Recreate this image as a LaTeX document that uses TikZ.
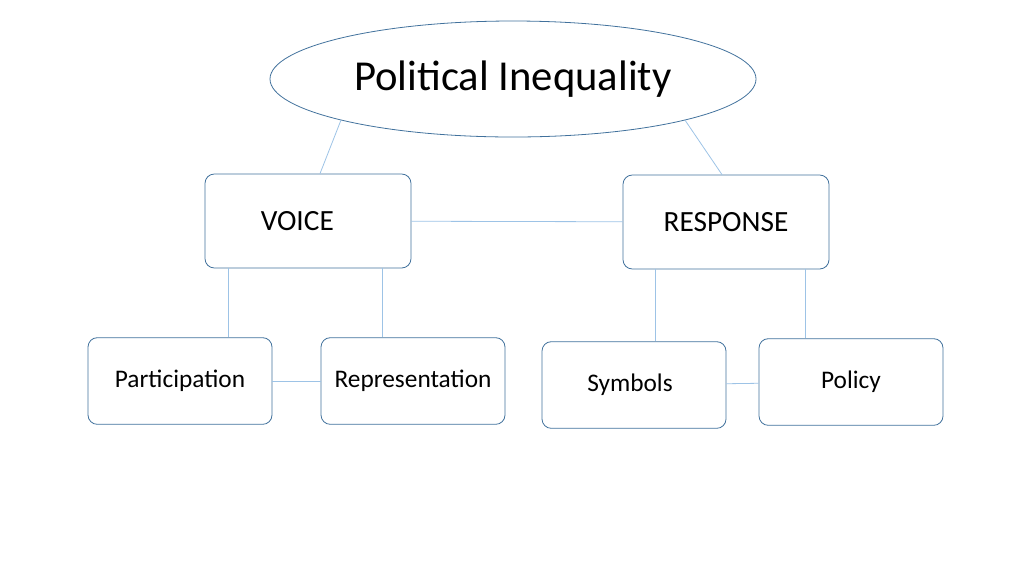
\documentclass[tikz,border=0pt]{standalone}
\usepackage{fontspec}
\setmainfont{Carlito}
\usetikzlibrary{shapes.geometric}

\definecolor{boxline}{HTML}{41719C}
\definecolor{linkline}{HTML}{9DC3E6}

\begin{document}
\begin{tikzpicture}[x=0.75pt,y=-0.75pt,
                    box node/.style={rectangle,rounded corners=7pt,draw=boxline,line width=0.6pt,inner sep=0pt},
                    top node/.style={box node,minimum width=154.5pt,minimum height=70.5pt,font=\fontsize{22}{24}\selectfont},
                    leaf node/.style={box node,minimum width=138pt,minimum height=65pt,font=\fontsize{19}{21}\selectfont},
                    link/.style={draw=linkline,line width=0.6pt}]

  \useasboundingbox (0,0) rectangle (1024,576);

  \node[ellipse,draw=boxline,line width=0.6pt,minimum width=364.5pt,minimum height=87pt,
        font=\fontsize{32}{34}\selectfont] (pi) at (513,79) {Political Inequality};

  \node[top node] (voice) at (308,221) {\hspace*{-16pt}VOICE};
  \node[top node] (resp) at (726,222) {RESPONSE};

  \node[leaf node] (part) at (180,381) {Participation};
  \node[leaf node] (repr) at (413,381) {Representation};
  \node[leaf node] (symb) at (634,385) {\hspace*{-6pt}Symbols};
  \node[leaf node] (poli) at (851,382) {Policy};

  \path[link]
    (pi.south west) edge (voice.north -| 320,0)
    (pi.south east) edge (resp.north -| 722,0)
    (voice) edge (resp)
    (voice.south -| 228,0) edge (part.north -| 228,0)
    (voice.south -| 382,0) edge (repr.north -| 382,0)
    (resp.south -| 655,0) edge (symb.north -| 655,0)
    (resp.south -| 805,0) edge (poli.north -| 805,0)
    (part) edge (repr)
    (symb) edge (poli);
\end{tikzpicture}
\end{document}
